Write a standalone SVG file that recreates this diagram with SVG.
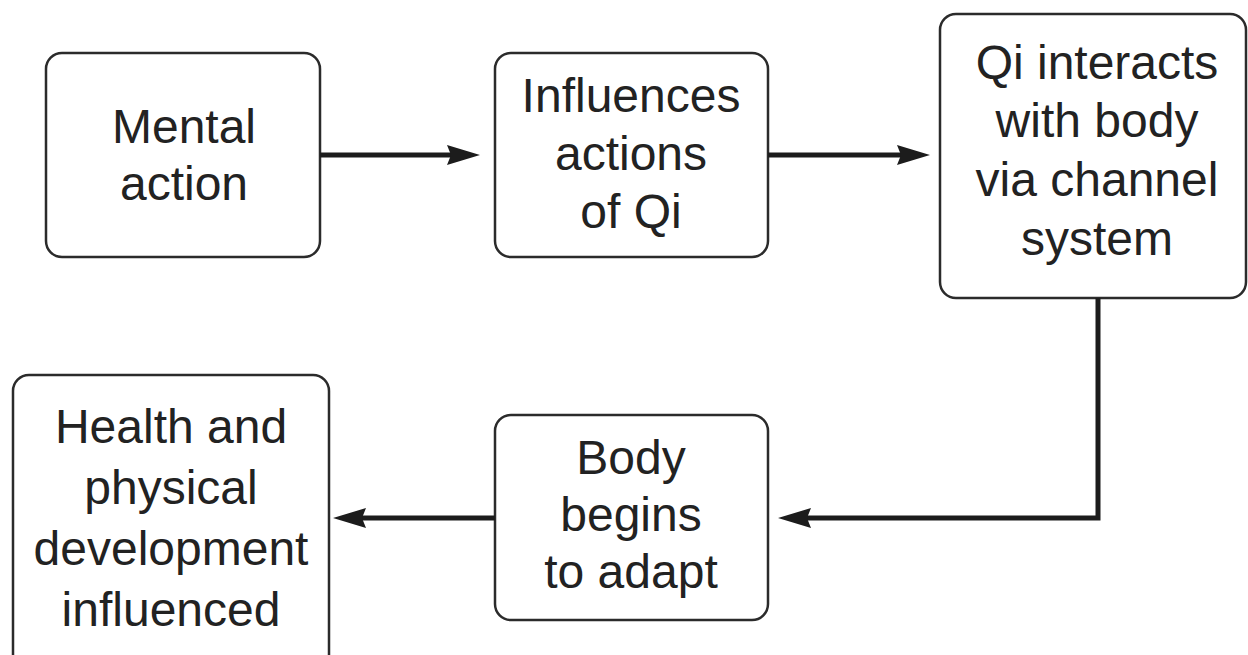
<svg xmlns="http://www.w3.org/2000/svg" width="1248" height="655" viewBox="0 0 1248 655">
  <style>
    .box { fill: #ffffff; stroke: #2b2b2b; stroke-width: 2.5; }
    .label { font-family: "Liberation Sans", Arial, sans-serif; font-size: 48px; fill: #222222; text-anchor: middle; }
    .wire { fill: none; stroke: #1c1c1c; stroke-width: 5; stroke-linejoin: miter; }
  </style>
  <defs>
    <marker id="arrow" markerUnits="userSpaceOnUse" markerWidth="34" markerHeight="22" refX="23" refY="10" orient="auto">
      <path d="M0,0 L33,10 L0,20 L4,10 Z" fill="#1c1c1c"/>
    </marker>
  </defs>
  <rect width="1248" height="655" fill="#ffffff"/>

  <g id="node-mental-action">
    <rect class="box" x="46" y="53" width="274" height="204" rx="16"/>
    <text class="label" x="184" y="143">Mental</text>
    <text class="label" x="184" y="200">action</text>
  </g>

  <g id="node-influences-qi">
    <rect class="box" x="495" y="53" width="273" height="204" rx="16"/>
    <text class="label" x="631" y="112">Influences</text>
    <text class="label" x="631" y="170">actions</text>
    <text class="label" x="631" y="228">of Qi</text>
  </g>

  <g id="node-qi-interacts">
    <rect class="box" x="940" y="14" width="306" height="284" rx="16"/>
    <text class="label" x="1097" y="79">Qi interacts</text>
    <text class="label" x="1097" y="137">with body</text>
    <text class="label" x="1097" y="196">via channel</text>
    <text class="label" x="1097" y="255">system</text>
  </g>

  <g id="node-body-adapts">
    <rect class="box" x="495" y="415" width="273" height="205" rx="16"/>
    <text class="label" x="631" y="474">Body</text>
    <text class="label" x="631" y="531">begins</text>
    <text class="label" x="631" y="588">to adapt</text>
  </g>

  <g id="node-health">
    <rect class="box" x="13" y="375" width="316" height="300" rx="16"/>
    <text class="label" x="171" y="443">Health and</text>
    <text class="label" x="171" y="504">physical</text>
    <text class="label" x="171" y="565">development</text>
    <text class="label" x="171" y="626">influenced</text>
  </g>

  <g id="connectors">
    <path class="wire" d="M320,155 L470,155" marker-end="url(#arrow)"/>
    <path class="wire" d="M768,155 L920,155" marker-end="url(#arrow)"/>
    <path class="wire" d="M1098,298 L1098,518 L788,518" marker-end="url(#arrow)"/>
    <path class="wire" d="M495,518 L343,518" marker-end="url(#arrow)"/>
  </g>
</svg>
